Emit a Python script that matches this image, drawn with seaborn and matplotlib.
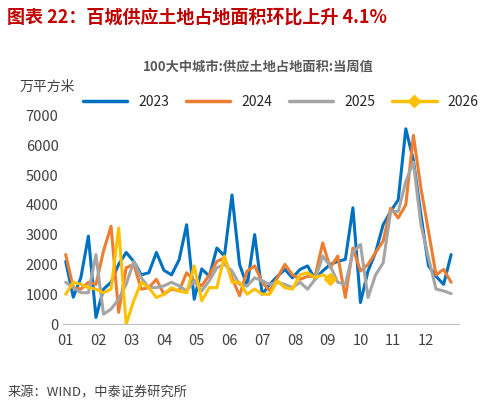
import numpy as np
import pandas as pd
import seaborn as sns
import matplotlib.pyplot as plt

years = ["2023", "2024", "2025", "2026"]
colors = ["#0070C0", "#ED7D31", "#A5A5A5", "#FFC000"]

v2023 = [2100, 900, 1550, 2950, 220, 1170, 1400, 2000, 2400, 2100, 1650, 1720, 2400, 1800,
         1650, 2150, 3330, 830, 1850, 1600, 2550, 2280, 4330, 2000, 1280, 3000, 1000, 1330,
         1600, 1830, 1550, 1830, 1950, 1500, 1780, 2000, 2100, 2170, 3900, 720, 1780, 2400,
         3330, 3780, 4170, 6550, 5500, 3670, 1950, 1600, 1330, 2330]
v2024 = [2330, 1220, 1170, 1400, 1330, 2450, 3280, 390, 1890, 2000, 1170, 1220, 1500, 1000,
         1170, 1110, 1720, 1450, 1280, 1650, 2100, 2220, 1550, 950, 1780, 1950, 1400, 1110,
         1550, 2000, 1650, 1500, 1600, 1600, 2720, 1890, 2280, 890, 2550, 1780, 2000, 2400,
         2780, 3890, 3560, 4000, 6330, 4560, 3110, 1650, 1830, 1400]
v2025 = [1400, 1220, 1050, 1050, 2330, 330, 500, 830, 1330, 2100, 1550, 1220, 1220, 1280,
         1400, 1280, 1110, 1450, 1110, 1450, 1890, 2000, 1780, 1330, 1280, 1550, 1450, 1330,
         1400, 1330, 1220, 1400, 1170, 1500, 2280, 1950, 1400, 1330, 2400, 2670, 890, 1650,
         2050, 3780, 3780, 4780, 5440, 3330, 2220, 1170, 1110, 1020]
v2026 = [1000, 1400, 1330, 1220, 1170, 1050, 1170, 3220, 0, 780, 1400, 1220, 890, 1000,
         1220, 1110, 1050, 1950, 780, 1220, 1220, 2280, 1400, 1400, 1000, 1170, 1000, 1000,
         1450, 1220, 1170, 1650, 1720, 1550, 1650, 1500]
month_labels = ["01", "02", "03", "04", "05", "06", "07", "08", "09", "10", "11", "12"]

rows = []
for y, vals in zip(years, [v2023, v2024, v2025, v2026]):
    for w, v in enumerate(vals):
        rows.append({"week": w, "value": v, "year": y})
df = pd.DataFrame(rows)

sns.set_style("white")
plt.rcParams["font.family"] = ["Noto Sans CJK SC", "DejaVu Sans"]

fig = plt.figure(figsize=(4.88, 4.05), dpi=100)
ax = fig.add_axes([0.13, 0.2, 0.81, 0.515])
sns.lineplot(data=df, x="week", y="value", hue="year", palette=colors, linewidth=2.2, ax=ax, legend=False)
last = df[df.year == "2026"].iloc[-1]
ax.plot(last.week, last.value, marker="D", color=colors[3], markersize=6)

ax.set_xlim(-0.3, 52)
ax.set_ylim(0, 7000)
ax.set_yticks(range(0, 7001, 1000))
ax.set_xticks(np.arange(12) * 52 / 12)
ax.set_xticklabels(month_labels)
ax.tick_params(axis="both", labelsize=10.5, colors="#404040", length=0)
ax.tick_params(axis="x", direction="out", length=4, color="#BFBFBF")
ax.set_xlabel("")
ax.set_ylabel("")
for s in ["top", "right", "left"]:
    ax.spines[s].set_visible(False)
ax.spines["bottom"].set_color("#BFBFBF")

handles = [plt.Line2D([], [], color=c, lw=2.5) for c in colors[:3]]
handles.append(plt.Line2D([], [], color=colors[3], lw=2.5, marker="D", markersize=6))
ax.legend(handles, years, loc="upper center", bbox_to_anchor=(0.55, 1.16), ncol=4,
          frameon=False, fontsize=10, handlelength=3.2, columnspacing=1.2)

fig.text(0.53, 0.825, "100大中城市:供应土地占地面积:当周值", ha="center", fontsize=9.5,
         color="#595959", fontweight="bold")
fig.text(0.04, 0.775, "万平方米", fontsize=10, color="#404040")
fig.text(0.015, 0.945, "图表 22：百城供应土地占地面积环比上升 4.1%", fontsize=13, color="#C00000",
         fontweight="bold", style="italic")
fig.text(0.015, 0.02, "来源：WIND，中泰证券研究所", fontsize=9.5, color="#404040")

fig.savefig("out.png", dpi=100)
